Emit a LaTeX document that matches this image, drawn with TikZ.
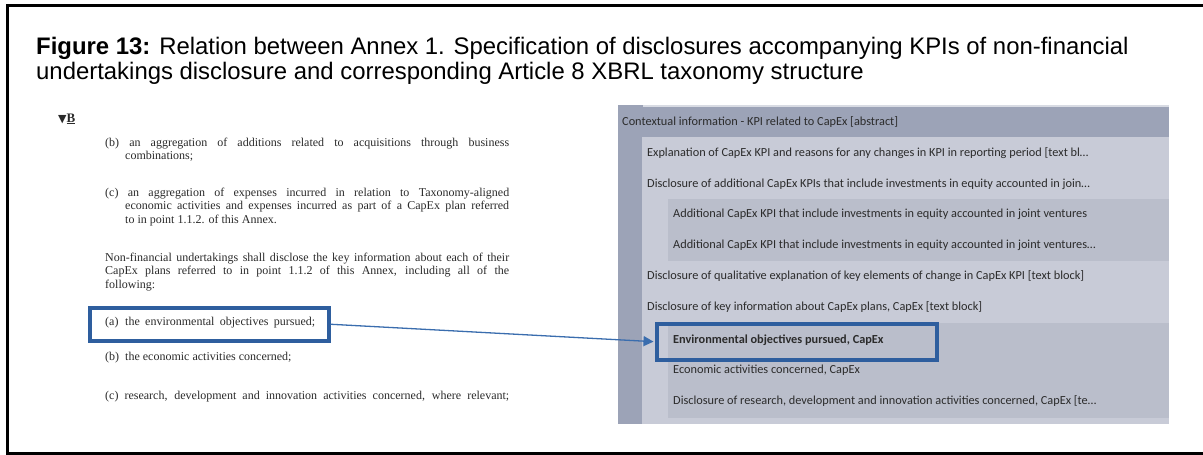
\documentclass[tikz,border=0pt]{standalone}
\usepackage{fontspec}
\setmainfont{Liberation Serif}
\newfontfamily\titlefont{Liberation Sans}
\newfontfamily\uifont{Carlito}
\newfontfamily\symfont{DejaVu Sans}
\usetikzlibrary{arrows.meta}

\definecolor{hlblue}{HTML}{2E5E9E}
\definecolor{linkblue}{HTML}{3A6DAE}
\definecolor{panelDark}{HTML}{9CA3B7}
\definecolor{panelLight}{HTML}{C8CBD7}
\definecolor{panelMid}{HTML}{BABECB}
\definecolor{uitext}{HTML}{2B2B2B}
\definecolor{doctext}{HTML}{2A2A2A}

\begin{document}
\begin{tikzpicture}[x=1pt,y=-1pt,
  title/.style={anchor=base west, inner sep=0, font=\titlefont\fontsize{23.9}{28}\selectfont},
  legal/.style={anchor=base west, inner sep=0, font=\fontsize{12}{14}\selectfont, text=doctext},
  uirow/.style={anchor=base west, inner sep=0, font=\uifont\fontsize{12.3}{14}\selectfont, text=uitext},
  hlbox/.style={draw=hlblue, line width=3.5pt, anchor=north west, inner sep=0},
  link/.style={draw=linkblue, line width=1.3pt, shorten >=1.5pt, -{Triangle[length=10pt,width=10pt]}}
]
\useasboundingbox (0,0) rectangle (1203,455);

% outer frame, open on the right
\draw[line width=3pt, line join=miter] (1203,5.5) -- (7,5.5) -- (7,453.5) -- (1203,453.5);

% caption
\node[title] (t1) at (36,54) {\textbf{Figure 13:} Relation between Annex 1. Specification of disclosures accompanying KPIs of non-financial};
\node[title] (t2) at (36,79) {undertakings disclosure and corresponding Article 8 XBRL taxonomy structure};

% regulation excerpt
\node[legal] (mark) at (58,122) {{\symfont\fontsize{11}{11}\selectfont ▼}{\fontsize{13}{14}\selectfont\textbf{\underline{B}}}};
\node[legal] (b1) at (105,146) {\makebox[404pt][s]{(b) an aggregation of additions related to acquisitions through business}};
\node[legal] (b2) at (125,159) {combinations;};
\node[legal] (c1) at (105,196) {\makebox[404pt][s]{(c) an aggregation of expenses incurred in relation to Taxonomy-aligned}};
\node[legal] (c2) at (125,209) {\makebox[384pt][s]{economic activities and expenses incurred as part of a CapEx plan referred}};
\node[legal] (c3) at (125,223) {to in point 1.1.2. of this Annex.};
\node[legal] (n1) at (105,261) {\makebox[404pt][s]{Non-financial undertakings shall disclose the key information about each of their}};
\node[legal] (n2) at (105,274) {\makebox[404pt][s]{CapEx plans referred to in point 1.1.2 of this Annex, including all of the}};
\node[legal] (n3) at (105,288) {following:};
\node[legal] (ia) at (105,325) {\makebox[20pt][l]{(a)}\makebox[190pt][s]{the environmental objectives pursued;}};
\node[legal] (ib) at (105,360) {\makebox[20pt][l]{(b)}the economic activities concerned;};
\node[legal] (ic) at (105,399) {\makebox[404pt][s]{(c) research, development and innovation activities concerned, where relevant;}};

% taxonomy tree panel
\fill[panelDark] (618,105) rectangle (1169,424);
\fill[panelLight] (642,137) rectangle (1169,424);
\fill[panelLight!70!white] (643,105) rectangle (1169,107);
\fill[panelMid] (668,199) rectangle (1169,261);
\fill[panelMid] (668,323) rectangle (1169,418);

\node[uirow] (r0) at (622,125) {Contextual information - KPI related to CapEx [abstract]};
\node[uirow] (r1) at (647,156) {Explanation of CapEx KPI and reasons for any changes in KPI in reporting period [text bl…};
\node[uirow] (r2) at (647,187) {Disclosure of additional CapEx KPIs that include investments in equity accounted in join…};
\node[uirow] (r3) at (673,217) {Additional CapEx KPI that include investments in equity accounted in joint ventures};
\node[uirow] (r4) at (673,248) {Additional CapEx KPI that include investments in equity accounted in joint ventures…};
\node[uirow] (r5) at (647,279) {Disclosure of qualitative explanation of key elements of change in CapEx KPI [text block]};
\node[uirow] (r6) at (647,310) {Disclosure of key information about CapEx plans, CapEx [text block]};
\node[uirow] (r7) at (673,343) {\textbf{Environmental objectives pursued, CapEx}};
\node[uirow] (r8) at (673,373) {Economic activities concerned, CapEx};
\node[uirow] (r9) at (673,404) {Disclosure of research, development and innovation activities concerned, CapEx [te…};

% highlight boxes and the link between them
\node[hlbox, minimum width=239pt, minimum height=33pt] (src) at (88,306) {};
\node[hlbox, minimum width=280pt, minimum height=36pt] (tgt) at (655,322) {};
\draw[link] (src.east) -- (tgt.west);
\end{tikzpicture}
\end{document}
